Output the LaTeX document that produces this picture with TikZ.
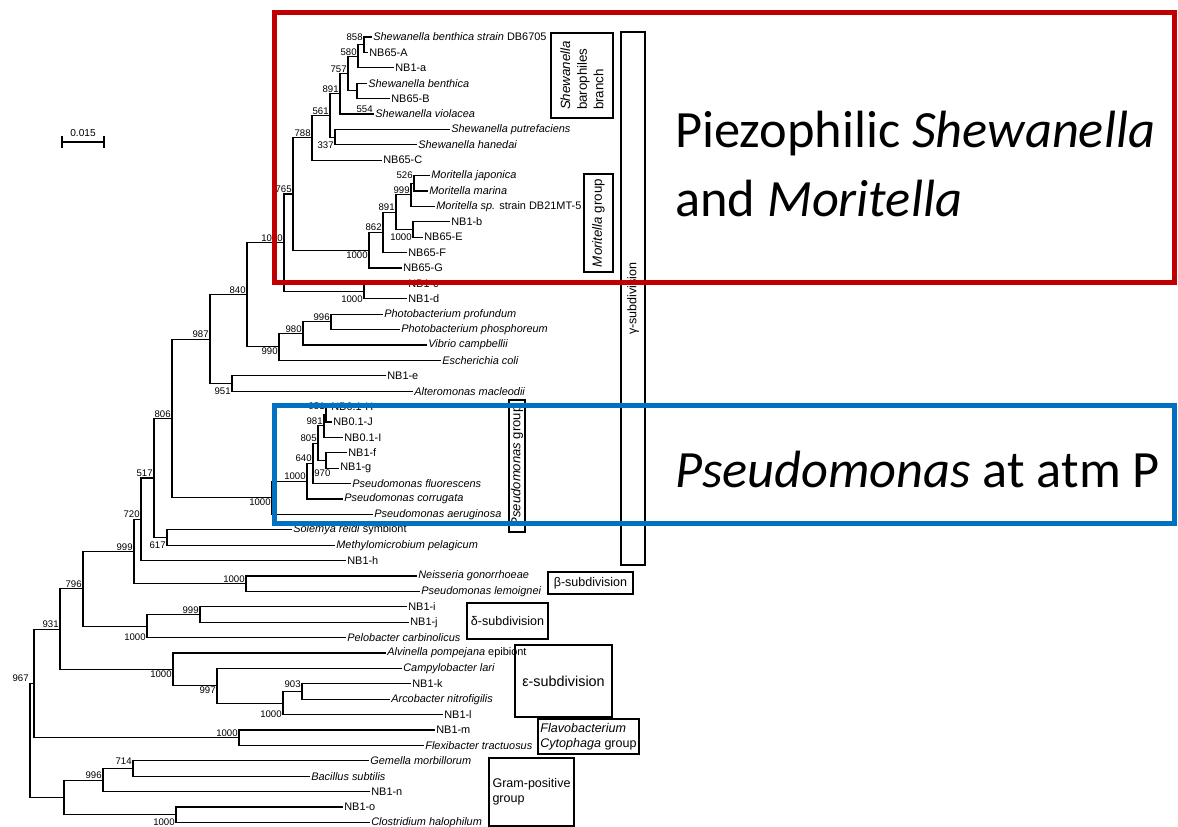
\documentclass[tikz,border=0pt]{standalone}
\usepackage{fontspec}
\setmainfont{Liberation Sans}
\newfontfamily\calibfont{Carlito}
\usetikzlibrary{calc,positioning}
\definecolor{boxred}{HTML}{C00000}
\definecolor{boxblue}{HTML}{0070C0}
\tikzset{
    % tree branches
    br/.style={draw=black, line width=0.8pt},
    % taxon labels
    leaf/.style={anchor=west, inner sep=0.8pt, font=\fontsize{8.2}{9}\selectfont},
    % bootstrap values
    bs/.style={inner sep=0.8pt, font=\fontsize{7.2}{8}\selectfont},
    % group boxes
    gbox/.style={draw=black, line width=0.8pt, inner sep=0pt, font=\fontsize{9.4}{11}\selectfont},
    % highlight frames
    hilite/.style={line width=3.75pt},
    big/.style={anchor=base west, inner sep=0pt, font=\calibfont\fontsize{39.3}{48}\selectfont}
}
% clade: name, x of node, upper child, lower child
\newcommand\clade[4]{%
  \coordinate (#1x) at (#2,0);
  \path ($(#3)!.5!(#4)$) coordinate (#1m);
  \coordinate (#1) at (#1m -| #1x);
  \draw[br] (#3) -| (#1) |- (#4);}

\begin{document}
\begin{tikzpicture}[x=0.75pt, y=-0.75pt]
\useasboundingbox (0,0) rectangle (1178,827);
%Leaves
\foreach \leafx/\leaftxt [count=\i] in {
  372/{\textit{Shewanella benthica strain} DB6705}, 368/NB65-A, 394/NB1-a,
  367/{\textit{Shewanella benthica}}, 390/NB65-B, 374/{\textit{Shewanella violacea}},
  450/{\textit{Shewanella putrefaciens}}, 417/{\textit{Shewanella hanedai}}, 382/NB65-C,
  430/{\textit{Moritella japonica}}, 428/{\textit{Moritella marina}},
  435/{\textit{Moritella sp.} strain DB21MT-5}, 450/NB1-b, 423/NB65-E, 407/NB65-F,
  402/NB65-G, 407/NB1-c, 407/NB1-d, 383/{\textit{Photobacterium profundum}},
  400/{\textit{Photobacterium phosphoreum}}, 427/{\textit{Vibrio campbellii}},
  441/{\textit{Escherichia coli}}, 386/NB1-e, 413/{\textit{Alteromonas macleodii}},
  330/NB0.1-H, 332/NB0.1-J, 343/NB0.1-I, 347/NB1-f, 339/NB1-g,
  351/{\textit{Pseudomonas fluorescens}}, 343/{\textit{Pseudomonas corrugata}},
  373/{\textit{Pseudomonas aeruginosa}}, 292/{\textit{Solemya reidi} symbiont},
  335/{\textit{Methylomicrobium pelagicum}}, 346/NB1-h,
  417/{\textit{Neisseria gonorrhoeae}}, 420/{\textit{Pseudomonas lemoignei}},
  407/NB1-i, 409/NB1-j, 346/{\textit{Pelobacter carbinolicus}},
  386/{\textit{Alvinella pompejana} epibiont}, 402/{\textit{Campylobacter lari}},
  411/NB1-k, 390/{\textit{Arcobacter nitrofigilis}}, 443/NB1-l, 435/NB1-m,
  424/{\textit{Flexibacter tractuosus}}, 369/{\textit{Gemella morbillorum}},
  310/{\textit{Bacillus subtilis}}, 370/NB1-n, 343/NB1-o,
  370/{\textit{Clostridium halophilum}}}{
  \coordinate (l\i) at (\leafx,{37+15.4*(\i-1)});
  \node[leaf] (t\i) at (l\i) {\leaftxt};
}
%Shewanella
\clade{n858}{364}{l1}{l2}
\clade{n580}{358}{n858}{l3}
\clade{nSB}{357}{l4}{l5}
\clade{n757}{348}{n580}{nSB}
\clade{n891}{340}{n757}{l6}
\clade{n337}{335}{l7}{l8}
\clade{n561}{330}{n891}{n337}
\clade{n788}{312}{n561}{l9}
%Moritella
\clade{n526}{414}{l10}{l11}
\clade{n999M}{411}{n526}{l12}
\clade{n1000E}{413}{l13}{l14}
\clade{n891M}{396}{n999M}{n1000E}
\clade{n862}{383}{n891M}{l15}
\clade{n1000G}{369}{n862}{l16}
\clade{n765}{293}{n788}{n1000G}
\clade{n1000cd}{364}{l17}{l18}
\clade{n1000a}{284}{n765}{n1000cd}
%Vibrio and Alteromonas
\clade{n996}{331}{l19}{l20}
\clade{n980}{303}{n996}{l21}
\clade{n990}{279}{n980}{l22}
\clade{n840}{247}{n1000a}{n990}
\clade{n951}{232}{l23}{l24}
\clade{n987}{210}{n840}{n951}
%Pseudomonas
\clade{nHJ}{326}{l25}{l26}
\clade{nHJI}{324}{nHJ}{l27}
\clade{nfg}{326}{l28}{l29}
\clade{n805}{318}{nHJI}{nfg}
\clade{n640}{313}{n805}{l30}
\clade{n1000P}{307}{n640}{l31}
\clade{n1000Po}{272}{n1000P}{l32}
\clade{n806}{172}{n987}{n1000Po}
\clade{n617}{167}{l33}{l34}
\clade{n517}{154}{n806}{n617}
\clade{n720}{141}{n517}{l35}
\clade{nNeis}{246}{l36}{l37}
\clade{n999B}{134}{n720}{nNeis}
\clade{nij}{200}{l38}{l39}
\clade{nDelta}{147}{nij}{l40}
\clade{n796}{83}{n999B}{nDelta}
%epsilon, Flavobacterium
\clade{n903}{302}{l43}{l44}
\clade{n1000k}{283}{n903}{l45}
\clade{n997}{217}{l42}{n1000k}
\clade{nEps}{173}{l41}{n997}
\clade{n931}{60}{n796}{nEps}
\clade{nFlavo}{239}{l46}{l47}
\clade{n967}{34}{n931}{nFlavo}
%Gram-positive
\clade{n714}{133}{l48}{l49}
\clade{n996G}{103}{n714}{l50}
\clade{nClos}{176}{l51}{l52}
\clade{nGram}{64}{n996G}{nClos}
\clade{nRoot}{30}{n967}{nGram}
%Bootstrap values
\node[bs, anchor=east] (b858) at (n858 |- l1) {858};
\node[bs, anchor=east] (b580) at (n580 |- l2) {580};
\node[bs, above left=0pt of n757] (b757) {757};
\node[bs, above left=0pt of n891] (b891) {891};
\node[bs, anchor=south east] (b554) at (t6.west) {554};
\node[bs, above left=0pt of n561] (b561) {561};
\node[bs, anchor=east] (b337) at (n337 |- l8) {337};
\node[bs, above left=0pt of n788] (b788) {788};
\node[bs, above left=0pt of n765] (b765) {765};
\node[bs, anchor=east] (b526) at (n526 |- l10) {526};
\node[bs, above left=0pt of n999M] (b999M) {999};
\node[bs, anchor=east] (b1000E) at (n1000E |- l14) {1000};
\node[bs, above left=0pt of n891M] (b891M) {891};
\node[bs, above left=0pt of n862] (b862) {862};
\node[bs, below left=0pt of n1000G] (b1000G) {1000};
\node[bs, above left=0pt of n1000a] (b1000a) {1000};
\node[bs, anchor=east] (b1000cd) at (n1000cd |- l18) {1000};
\node[bs, above left=0pt of n996] (b996) {996};
\node[bs, above left=0pt of n980] (b980) {980};
\node[bs, below left=0pt of n990] (b990) {990};
\node[bs, above left=0pt of n840] (b840) {840};
\node[bs, anchor=east] (b951) at (n951 |- l24) {951};
\node[bs, above left=0pt of n987] (b987) {987};
\node[bs, anchor=east] (bHJ) at (nHJ |- l25) {951};
\node[bs, above left=0pt of nHJI] (bHJI) {981};
\node[bs, above left=0pt of n805] (b805) {805};
\node[bs, above left=0pt of n640] (b640) {640};
\node[bs, anchor=north west] (b970) at (n640 |- l29) {970};
\node[bs, above left=0pt of n1000P] (b1000P) {1000};
\node[bs, below left=0pt of n1000Po] (b1000Po) {1000};
\node[bs, above left=0pt of n806] (b806) {806};
\node[bs, anchor=east] (b617) at (n617 |- l34) {617};
\node[bs, above left=0pt of n517] (b517) {517};
\node[bs, above left=0pt of n720] (b720) {720};
\node[bs, above left=0pt of nNeis] (bNeis) {1000};
\node[bs, above left=0pt of n999B] (b999B) {999};
\node[bs, above left=0pt of nij] (bij) {999};
\node[bs, anchor=east] (bDelta) at (nDelta |- l40) {1000};
\node[bs, above left=0pt of n796] (b796) {796};
\node[bs, anchor=east] (b903) at (n903 |- l43) {903};
\node[bs, anchor=east] (b1000k) at (n1000k |- l45) {1000};
\node[bs, below left=0pt of n997] (b997) {997};
\node[bs, below left=0pt of nEps] (bEps) {1000};
\node[bs, above left=0pt of n931] (b931) {931};
\node[bs, above left=0pt of nFlavo] (bFlavo) {1000};
\node[bs, anchor=south east] (b967) at (nRoot |- n967) {967};
\node[bs, anchor=east] (b714) at (n714 |- l48) {714};
\node[bs, above left=0pt of n996G] (b996G) {996};
\node[bs, anchor=east] (bClos) at (nClos |- l52) {1000};
%Scale bar
\coordinate (sbl) at (62,142);
\coordinate (sbr) at (104,142);
\draw[br] (sbl) -- (sbr);
\draw[br] ($(sbl)+(0,-6)$) -- ($(sbl)+(0,6)$);
\draw[br] ($(sbr)+(0,-6)$) -- ($(sbr)+(0,6)$);
\node[bs, anchor=south, font=\fontsize{7.6}{9}\selectfont] (sblab) at ($(sbl)!.5!(sbr)+(0,-4)$) {0.015};
%Group boxes
\node[gbox, rotate=90, minimum width=63.75pt, minimum height=46.5pt, align=left,
      font=\fontsize{10}{12.5}\selectfont] (shbox) at (582,75.5) {\textit{Shewanella}\\barophiles\\branch};
\node[gbox, rotate=90, minimum width=73.5pt, minimum height=21.75pt,
      font=\fontsize{10}{12}\selectfont] (mobox) at (598.5,223) {\textit{Moritella} group};
\node[gbox, rotate=90, minimum width=99pt, minimum height=12pt,
      font=\fontsize{9.8}{12}\selectfont] (psbox) at (517,466) {\textit{Pseudomonas} group};
\node[gbox, rotate=90, minimum width=399.75pt, minimum height=18pt] (gabox) at (633,298.5) {γ-subdivision};
\node[gbox, minimum width=63.75pt, minimum height=16.5pt] (bebox) at (590.5,583) {β-subdivision};
\node[gbox, minimum width=60.75pt, minimum height=27pt] (debox) at (507.5,621) {δ-subdivision};
\node[gbox, minimum width=72.75pt, minimum height=54pt, font=\fontsize{10.8}{13}\selectfont] (epbox) at (563.5,681) {ε-subdivision};
\node[gbox, minimum width=75.75pt, minimum height=26.25pt, align=left] (flbox) at (588.5,736.5) {\textit{Flavobacterium}\\\textit{Cytophaga} group};
\node[gbox, minimum width=63.75pt, minimum height=51pt, align=left] (grbox) at (531.5,792) {Gram-positive\\group};
%Highlight frames
\draw[hilite, boxred] (274,13) rectangle (1174.5,283);
\draw[hilite, boxblue] (274,405) rectangle (1174.5,523);
\node[big] (pz1) at (675,148) {Piezophilic \textit{Shewanella}};
\node[big] (pz2) at (675,217) {and \textit{Moritella}};
\node[big] (ps1) at (675,487) {\textit{Pseudomonas} at atm P};
\end{tikzpicture}
\end{document}
